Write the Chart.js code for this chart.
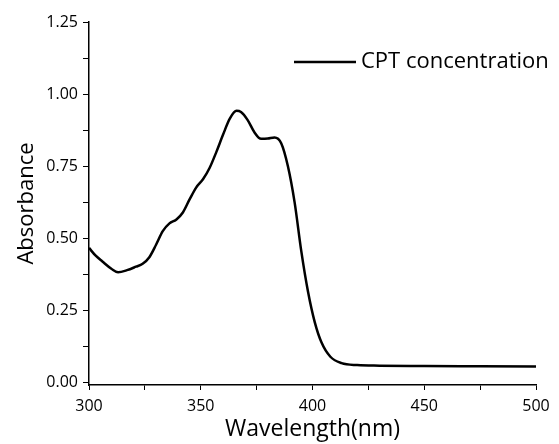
<!DOCTYPE html>
<html>
<head>
  <meta charset="UTF-8">
  <title>CPT absorbance</title>
  <script src="https://cdn.jsdelivr.net/npm/chart.js"></script>
  <style>
    html, body { margin: 0; padding: 0; background: #fff; }
    #wrap { width: 559px; height: 444px; }
  </style>
</head>
<body>
  <div id="wrap"><canvas id="myChart" width="559" height="444"></canvas></div>

  <script>
    const wavelength = [300, 303, 306, 310, 313, 317, 321, 324, 327, 330, 333, 336, 339, 342, 345, 348, 351, 354, 357, 360, 363, 366, 368, 371, 374, 377, 380, 383, 386, 389, 392, 395, 398, 401, 404, 408, 413, 420, 430, 450, 475, 500];
    const absorbance = [0.467, 0.440, 0.420, 0.395, 0.383, 0.390, 0.402, 0.412, 0.435, 0.478, 0.525, 0.552, 0.565, 0.590, 0.635, 0.677, 0.705, 0.745, 0.800, 0.860, 0.915, 0.942, 0.938, 0.910, 0.868, 0.845, 0.846, 0.850, 0.830, 0.750, 0.625, 0.455, 0.315, 0.210, 0.140, 0.090, 0.068, 0.061, 0.059, 0.058, 0.057, 0.056];
    const seriesName = 'CPT concentration';

    const FONT = '"Open Sans", sans-serif';

    // legend drawn inside the plot, top right
    const legendInside = {
      id: 'legendInside',
      afterDraw(chart) {
        const ctx = chart.ctx;
        ctx.save();
        ctx.strokeStyle = '#000';
        ctx.lineWidth = 2.5;
        ctx.beginPath();
        ctx.moveTo(294, 62);
        ctx.lineTo(356, 62);
        ctx.stroke();
        ctx.fillStyle = '#000';
        ctx.font = '22px ' + FONT;
        ctx.textBaseline = 'middle';
        ctx.fillText(seriesName, 361, 62);
        ctx.restore();
      }
    };

    new Chart(document.getElementById('myChart'), {
      type: 'line',
      data: {
        datasets: [{
          label: seriesName,
          data: wavelength.map((w, i) => ({ x: w, y: absorbance[i] })),
          borderColor: '#000',
          borderWidth: 2.5,
          pointRadius: 0,
          fill: false,
          cubicInterpolationMode: 'monotone'
        }]
      },
      options: {
        responsive: false,
        animation: false,
        layout: { padding: { top: 22, right: 23, left: 10, bottom: 0 } },
        plugins: {
          legend: { display: false },
          tooltip: { enabled: false }
        },
        scales: {
          x: {
            type: 'linear',
            min: 300,
            max: 500,
            afterFit(scale) { scale.height = 59; },
            ticks: {
              stepSize: 25,
              autoSkip: false,
              maxRotation: 0,
              color: '#000',
              padding: 7,
              font: { family: FONT, size: 16 },
              callback: v => (v % 50 === 0 ? String(v) : '')
            },
            grid: { drawOnChartArea: false, tickLength: 5, color: '#000', tickColor: '#000' },
            border: { color: '#000', width: 1.5 },
            title: {
              display: true,
              text: 'Wavelength(nm)',
              color: '#000',
              font: { family: FONT, size: 23 },
              padding: { top: 0, bottom: 1 }
            }
          },
          y: {
            min: -0.008,
            max: 1.25,
            afterFit(scale) { scale.width = 79; },
            afterBuildTicks(scale) {
              const t = [];
              for (let v = 0; v <= 1.25001; v += 0.125) t.push({ value: Math.round(v * 1000) / 1000 });
              scale.ticks = t;
            },
            ticks: {
              color: '#000',
              padding: 5,
              font: { family: FONT, size: 16 },
              callback: v => (Math.round(v * 1000) % 250 === 0 ? v.toFixed(2) : '')
            },
            grid: { drawOnChartArea: false, tickLength: 6, color: '#000', tickColor: '#000' },
            border: { color: '#000', width: 1.5 },
            title: {
              display: true,
              text: 'Absorbance',
              color: '#000',
              font: { family: FONT, size: 22 },
              padding: { top: 4, bottom: 4 }
            }
          }
        }
      },
      plugins: [legendInside]
    });
  </script>
</body>
</html>
